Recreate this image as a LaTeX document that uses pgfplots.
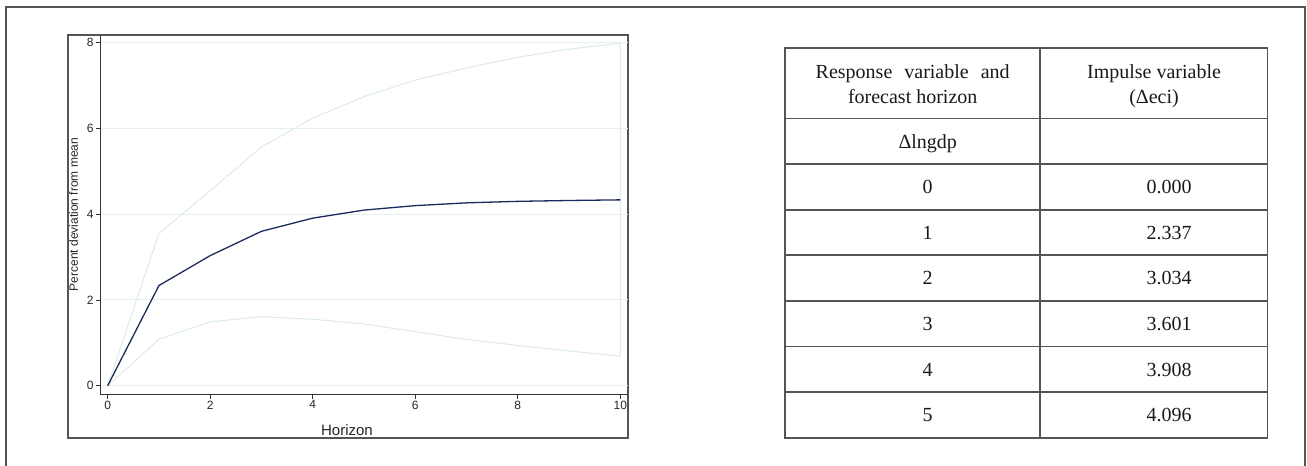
\documentclass[border=0pt]{standalone}
\usepackage{fontspec}
\setmainfont{Liberation Serif}
\newfontfamily\arial{Liberation Sans}
\usepackage{pgfplots}
\pgfplotsset{compat=1.18}
\definecolor{navy}{HTML}{1B2A5E}
\definecolor{band}{HTML}{DCEAEA}
\definecolor{gridc}{HTML}{E6F0F0}
\definecolor{frame}{HTML}{555555}
\begin{document}
\begin{tikzpicture}[x=1pt,y=1pt]
\useasboundingbox (0,0) rectangle (1307,466);
% outer frame (open at bottom)
\draw[frame, line width=2pt] (5.7,0) -- (5.7,459.3) -- (1305,459.3) -- (1305,0);
% plot box
\draw[frame, line width=1.7pt] (67.7,28.3) rectangle (628.3,431.3);
\begin{axis}[
  at={(100.3pt,71.5pt)}, anchor=south west,
  scale only axis, width=528pt, height=359.8pt,
  xmin=-0.144, xmax=10.156, ymin=-0.205, ymax=8.187,
  axis x line*=bottom, axis y line*=left,
  axis line style={-, draw=black!80, line width=0.9pt},
  xtick={0,2,4,6,8,10}, ytick={0,2,4,6,8},
  tick align=outside, major tick length=4.5pt,
  tick style={draw=black!80, line width=0.8pt},
  ymajorgrids, grid style={gridc, line width=1pt},
  /pgf/number format/assume math mode=true,
  ticklabel style={font=\arial\fontsize{12}{12}\selectfont, text=black!85},
  xticklabel style={inner sep=1.5pt},
  yticklabel style={inner sep=2pt},
  xlabel={Horizon},
  every axis x label/.style={at={(axis description cs:0.4672,-0.1145)}, anchor=base, font=\arial\fontsize{15}{15}\selectfont, text=black!85},
  ylabel={Percent deviation from mean},
  every axis y label/.style={at={(axis description cs:-0.0504,0.5)}, rotate=90, anchor=center, font=\arial\fontsize{12}{12}\selectfont, text=black!85},
  clip=false,
]
% confidence band outline (upper 0..10, then lower 10..0)
\addplot[band, line width=1pt] coordinates {
  (0,0) (1,3.55) (2,4.55) (3,5.57) (4,6.24) (5,6.74) (6,7.13) (7,7.41) (8,7.66) (9,7.85) (10,7.99)
  (10,0.69) (9,0.81) (8,0.94) (7,1.08) (6,1.26) (5,1.44) (4,1.55) (3,1.61) (2,1.49) (1,1.08) (0,0)
};
% impulse response
\addplot[navy, line width=1.3pt] coordinates {
  (0,0) (1,2.337) (2,3.034) (3,3.601) (4,3.908) (5,4.096) (6,4.200) (7,4.265) (8,4.300) (9,4.320) (10,4.335)
};
\end{axis}
% table
\begin{scope}[frame, line width=1.7pt]
\draw (785.1,28.3) rectangle (1267.5,418.3);
\draw (1040.3,28.3) -- (1040.3,418.3);
\foreach \yy in {347.5,301.9,256.3,210.7,165.1,119.5,73.9} {\draw (785.1,\yy) -- (1267.5,\yy);}
\end{scope}
\begin{scope}[every node/.style={inner sep=0pt, anchor=base, font=\fontsize{20}{20}\selectfont, text=black!90}]
\node at (912.7,387.7) {Response\hspace{0.6em}variable\hspace{0.6em}and};
\node at (912.7,362.0) {forecast horizon};
\node at (1154,387.7) {Impulse variable};
\node at (1154,362.0) {(Δeci)};
\node at (927.7,317.9) {Δlngdp};
\node at (927.7,272.3) {0};
\node at (927.7,226.7) {1};
\node at (927.7,181.1) {2};
\node at (927.7,135.5) {3};
\node at (927.7,89.9) {4};
\node at (927.7,44.3) {5};
\node at (1169,272.3) {0.000};
\node at (1169,226.7) {2.337};
\node at (1169,181.1) {3.034};
\node at (1169,135.5) {3.601};
\node at (1169,89.9) {3.908};
\node at (1169,44.3) {4.096};
\end{scope}
\end{tikzpicture}
\end{document}
